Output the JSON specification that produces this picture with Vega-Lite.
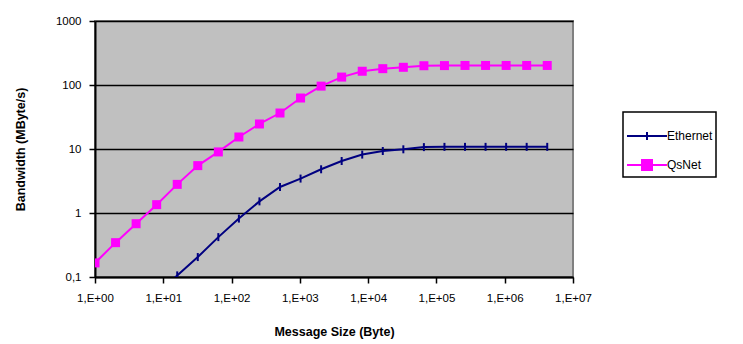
{
  "$schema": "https://vega.github.io/schema/vega-lite/v6.json",
  "width": 478,
  "height": 256,
  "autosize": {"type": "none"},
  "padding": {"left": 95, "top": 21, "right": 170, "bottom": 67},
  "background": "white",
  "config": {
    "font": "Liberation Sans",
    "view": {"fill": "#C0C0C0", "stroke": "#808080", "strokeWidth": 2},
    "axis": {
      "domainColor": "black", "domainWidth": 2,
      "tickColor": "black", "tickWidth": 1.5, "tickSize": 6,
      "labelFont": "Liberation Sans", "labelFontSize": 11.5, "labelColor": "black",
      "titleFont": "Liberation Sans", "titleFontSize": 12.5, "titleFontWeight": "bold", "titleColor": "black"
    }
  },
  "data": {
    "values": [
      {"size": 1, "bw": 0.166, "net": "QsNet"},
      {"size": 2, "bw": 0.344, "net": "QsNet"},
      {"size": 4, "bw": 0.68, "net": "QsNet"},
      {"size": 8, "bw": 1.35, "net": "QsNet"},
      {"size": 16, "bw": 2.8, "net": "QsNet"},
      {"size": 32, "bw": 5.5, "net": "QsNet"},
      {"size": 64, "bw": 9.0, "net": "QsNet"},
      {"size": 128, "bw": 15.4, "net": "QsNet"},
      {"size": 256, "bw": 24.6, "net": "QsNet"},
      {"size": 512, "bw": 36.5, "net": "QsNet"},
      {"size": 1024, "bw": 62.6, "net": "QsNet"},
      {"size": 2048, "bw": 96, "net": "QsNet"},
      {"size": 4096, "bw": 133, "net": "QsNet"},
      {"size": 8192, "bw": 164, "net": "QsNet"},
      {"size": 16384, "bw": 180, "net": "QsNet"},
      {"size": 32768, "bw": 189, "net": "QsNet"},
      {"size": 65536, "bw": 200, "net": "QsNet"},
      {"size": 131072, "bw": 201, "net": "QsNet"},
      {"size": 262144, "bw": 202, "net": "QsNet"},
      {"size": 524288, "bw": 202, "net": "QsNet"},
      {"size": 1048576, "bw": 202, "net": "QsNet"},
      {"size": 2097152, "bw": 202, "net": "QsNet"},
      {"size": 4194304, "bw": 202, "net": "QsNet"},
      {"size": 8, "bw": 0.053, "net": "Ethernet"},
      {"size": 16, "bw": 0.106, "net": "Ethernet"},
      {"size": 32, "bw": 0.205, "net": "Ethernet"},
      {"size": 64, "bw": 0.42, "net": "Ethernet"},
      {"size": 128, "bw": 0.818, "net": "Ethernet"},
      {"size": 256, "bw": 1.52, "net": "Ethernet"},
      {"size": 512, "bw": 2.55, "net": "Ethernet"},
      {"size": 1024, "bw": 3.45, "net": "Ethernet"},
      {"size": 2048, "bw": 4.82, "net": "Ethernet"},
      {"size": 4096, "bw": 6.49, "net": "Ethernet"},
      {"size": 8192, "bw": 8.18, "net": "Ethernet"},
      {"size": 16384, "bw": 9.31, "net": "Ethernet"},
      {"size": 32768, "bw": 9.89, "net": "Ethernet"},
      {"size": 65536, "bw": 10.7, "net": "Ethernet"},
      {"size": 131072, "bw": 10.8, "net": "Ethernet"},
      {"size": 262144, "bw": 10.8, "net": "Ethernet"},
      {"size": 524288, "bw": 10.8, "net": "Ethernet"},
      {"size": 1048576, "bw": 10.8, "net": "Ethernet"},
      {"size": 2097152, "bw": 10.8, "net": "Ethernet"},
      {"size": 4194304, "bw": 10.8, "net": "Ethernet"}
    ]
  },
  "encoding": {
    "x": {
      "field": "size", "type": "quantitative",
      "scale": {"type": "log", "domain": [1, 10000000], "nice": false},
      "axis": {
        "title": "Message Size (Byte)",
        "values": [1, 10, 100, 1000, 10000, 100000, 1000000, 10000000],
        "labelExpr": "'1,E+0' + round(log(datum.value) / LN10)",
        "grid": false, "labelPadding": 9, "titlePadding": 22, "labelFlush": false
      }
    },
    "y": {
      "field": "bw", "type": "quantitative",
      "scale": {"type": "log", "domain": [0.1, 1000], "nice": false},
      "axis": {
        "title": "Bandwidth (MByte/s)",
        "values": [0.1, 1, 10, 100, 1000],
        "labelExpr": "datum.value < 1 ? '0,1' : format(datum.value, 'd')",
        "grid": true, "gridColor": "black", "gridWidth": 1.5, "gridOpacity": 1,
        "labelPadding": 8, "titlePadding": 28, "labelFlush": false
      }
    }
  },
  "layer": [
    {
      "mark": {"type": "line", "strokeWidth": 2, "clip": true},
      "encoding": {
        "color": {
          "field": "net", "type": "nominal",
          "scale": {"domain": ["Ethernet", "QsNet"], "range": ["#000080", "#FF00FF"]},
          "legend": {
            "title": null,
            "orient": "none",
            "legendX": 528,
            "legendY": 91,
            "strokeColor": "black",
            "fillColor": "white",
            "padding": 3,
            "symbolSize": 100,
            "symbolType": "square",
            "labelOffset": -1,
            "rowPadding": -5.5,
            "labelFont": "Liberation Sans",
            "labelFontSize": 12,
            "labelColor": "black",
            "encode": {
              "legend": {"update": {"strokeWidth": {"value": 1.5}}},
              "symbols": {
                "update": {
                  "shape": {"signal": "datum.value === 'QsNet' ? 'M-1,0H1M-0.25,-0.25H0.25V0.25H-0.25Z' : 'M-1,0H1M0,-0.2V0.2'"},
                  "size": {"value": 1600},
                  "fill": {"scale": "color", "field": "value"},
                  "stroke": {"scale": "color", "field": "value"},
                  "strokeWidth": {"value": 2},
                  "opacity": {"value": 1}
                }
              }
            }
          }
        }
      }
    },
    {
      "transform": [{"filter": "datum.net === 'QsNet'"}],
      "mark": {"type": "point", "shape": "square", "filled": true, "size": 81, "color": "#FF00FF", "opacity": 1, "clip": true}
    },
    {
      "transform": [{"filter": "datum.net === 'Ethernet'"}],
      "mark": {"type": "point", "shape": "M0,-1V1", "filled": false, "size": 64, "strokeWidth": 2, "color": "#000080", "opacity": 1, "clip": true}
    }
  ]
}
